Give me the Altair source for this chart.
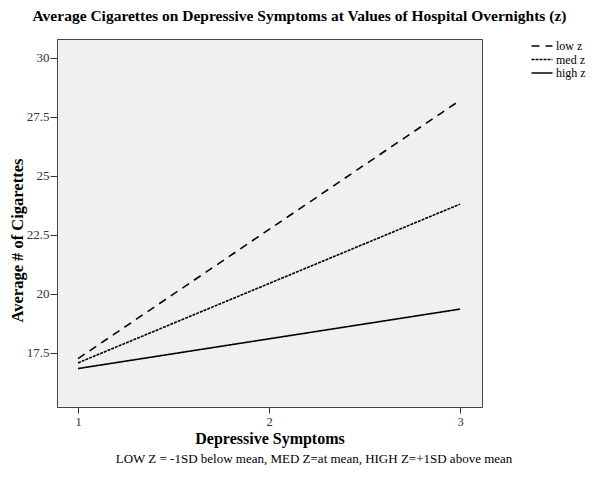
import altair as alt
import pandas as pd

# ---- data ----
symptoms = [1, 3]
low_z = [17.25, 28.2]
med_z = [17.07, 23.8]
high_z = [16.83, 19.35]
series_names = ["low z", "med z", "high z"]
x_ticks = [1, 2, 3]
y_ticks = [17.5, 20, 22.5, 25, 27.5, 30]
title_text = "Average Cigarettes on Depressive Symptoms at Values of Hospital Overnights (z)"
x_title = "Depressive Symptoms"
y_title = "Average # of Cigarettes"
note_text = "LOW Z = -1SD below mean, MED Z=at mean, HIGH Z=+1SD above mean"

rows = []
for name, vals in zip(series_names, [low_z, med_z, high_z]):
    for x, y in zip(symptoms, vals):
        rows.append({"symptoms": x, "cigs": y, "z": name})
df = pd.DataFrame(rows)

FONT = "Liberation Serif"

lines = alt.Chart(df).mark_line(color="black", strokeWidth=1.6).encode(
    x=alt.X(
        "symptoms:Q",
        scale=alt.Scale(domain=[0.89, 3.115], nice=False, zero=False),
        axis=alt.Axis(
            values=x_ticks, title=x_title, grid=False, domain=False,
            tickSize=6, tickColor="#333", labelPadding=2,
            labelFont=FONT, labelFontSize=12.5, labelColor="#333",
            titleFont=FONT, titleFontSize=16, titleFontWeight="bold", titleColor="black",
            titleY=36, titleBaseline="alphabetic",
        ),
    ),
    y=alt.Y(
        "cigs:Q",
        scale=alt.Scale(domain=[15.2, 30.8], nice=False, zero=False),
        axis=alt.Axis(
            values=y_ticks, title=y_title, grid=False, domain=False,
            tickSize=7, tickColor="#333", labelPadding=1,
            labelExpr="datum.value",
            labelFont=FONT, labelFontSize=13, labelColor="#333",
            titleFont=FONT, titleFontSize=16.5, titleFontWeight="bold", titleColor="black",
            titleAngle=270, titleX=-35, titleY=201, titleAlign="center",
            titleBaseline="alphabetic",
        ),
    ),
    strokeDash=alt.StrokeDash(
        "z:N",
        scale=alt.Scale(domain=series_names, range=[[8, 6], [3, 1], [1, 0]]),
        legend=alt.Legend(
            title=None, orient="none", legendX=479, legendY=1,
            symbolType="M-2,0H2", symbolSize=110, symbolStrokeColor="black",
            symbolStrokeWidth=1.5, labelFont=FONT, labelFontSize=12,
            labelColor="black", labelOffset=8, rowPadding=1.5,
        ),
    ),
)

note = alt.Chart(pd.DataFrame({"note": [note_text]})).mark_text(
    font=FONT, fontSize=13, align="center", baseline="alphabetic", color="black"
).encode(x=alt.value(257), y=alt.value(424), text="note:N")

chart = alt.layer(lines, note).properties(
    width=425,
    height=368,
    title=alt.TitleParams(
        title_text, font=FONT, fontSize=15.5, fontWeight="bold", color="black",
        anchor="middle", dx=30, offset=14.5,
    ),
    autosize=alt.AutoSizeParams(type="none"),
    padding={"left": 49, "top": 31, "right": 117, "bottom": 71},
).configure_view(fill="#f0f0f0", stroke="#444", strokeWidth=1)

chart.save("out.html", embed_options={"renderer": "svg", "actions": False})
